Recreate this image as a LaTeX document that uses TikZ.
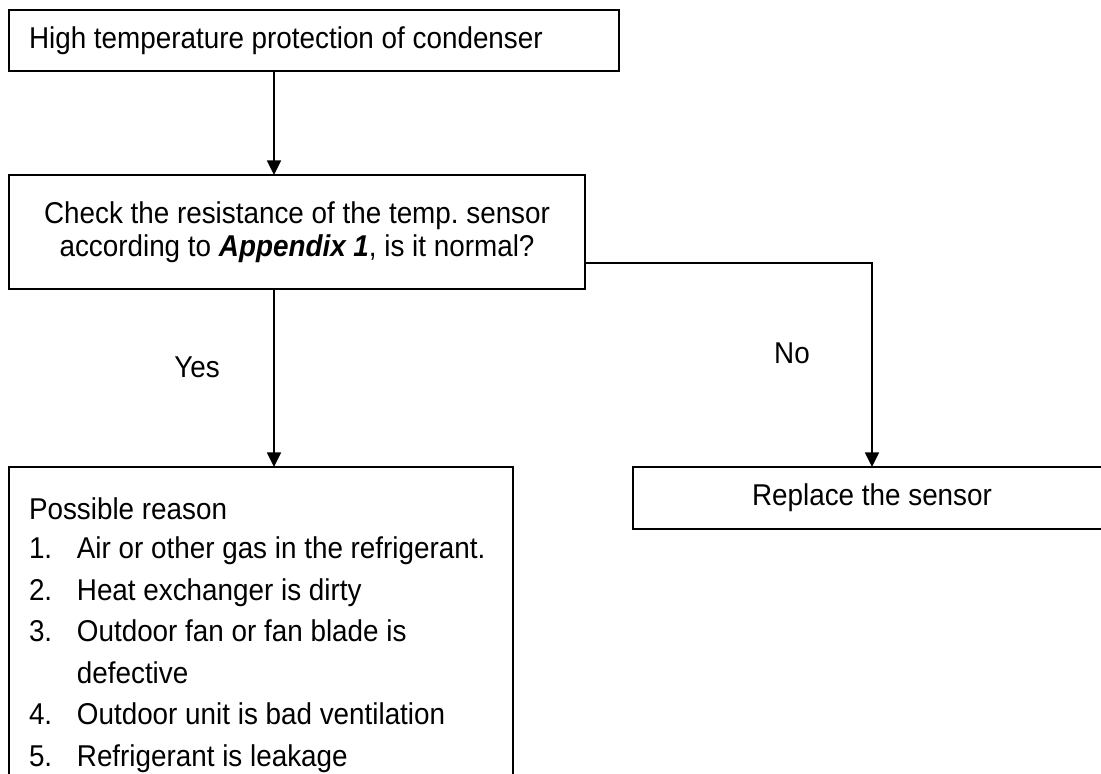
\documentclass[tikz,border=0pt]{standalone}
\usepackage{fontspec}
\setmainfont{Liberation Sans}[FakeStretch=0.925]
\usetikzlibrary{arrows.meta,positioning,calc}
\newcommand{\pxu}{0.432pt}
\newcommand{\listline}[2]{\makebox[20.7pt][l]{#1}\mbox{#2}}
\tikzset{
	flbox/.style={draw=black, line width=0.9pt, rectangle, inner sep=0pt,
		outer sep=0pt, anchor=north west,
		font=\fontsize{13}{14.3}\selectfont\frenchspacing},
	farr/.style={-{Triangle[length=6.3pt,width=6pt]}, line width=0.9pt},
	flabel/.style={font=\fontsize{13}{14.3}\selectfont, inner sep=0pt},
}

\begin{document}
\begin{tikzpicture}[x=\pxu, y=-\pxu]
	\useasboundingbox (0,0) rectangle (1101,774);
	\clip (0,0) rectangle (1101,774);
	\node[flbox, inner xsep=20*\pxu, text width=570*\pxu, minimum height=61*\pxu,
		align=flush left] (high) at (9,10) {High temperature protection of condenser};
	\node[flbox, inner xsep=10*\pxu, text width=556*\pxu, minimum height=114*\pxu,
		align=flush center] (check) at (9,175)
		{Check the resistance of the temp. sensor\\according to \textbf{\textit{Appendix 1}}, is it normal?};
	\node[flbox, inner xsep=20*\pxu, inner ysep=31*\pxu, text width=464*\pxu,
		align=flush left, font=\fontsize{13}{17.9}\selectfont] (reason) at (9,467)
		{Possible reason\\[-1pt]
		\listline{1.}{Air or other gas in the refrigerant.}\\
		\listline{2.}{Heat exchanger is dirty}\\
		\listline{3.}{Outdoor fan or fan blade is}\\
		\listline{}{defective}\\
		\listline{4.}{Outdoor unit is bad ventilation}\\
		\listline{5.}{Refrigerant is leakage}};
	\node[flbox, text width=478*\pxu, minimum height=62*\pxu, align=flush center]
		(replace) at (633,467) {Replace the sensor};
	\coordinate (spine) at (274,0);
	\coordinate (nojoint) at ($(check.south east)+(0,-26)$);
	\draw[farr] (high.south -| spine) -- (check.north -| spine);
	\draw[farr] (check.south -| spine) -- (reason.north -| spine);
	\draw[farr] (nojoint) -| (replace.north);
	\node[flabel] (yes) at (197,367) {Yes};
	\node[flabel] (no) at (792,353) {No};
\end{tikzpicture}
\end{document}
